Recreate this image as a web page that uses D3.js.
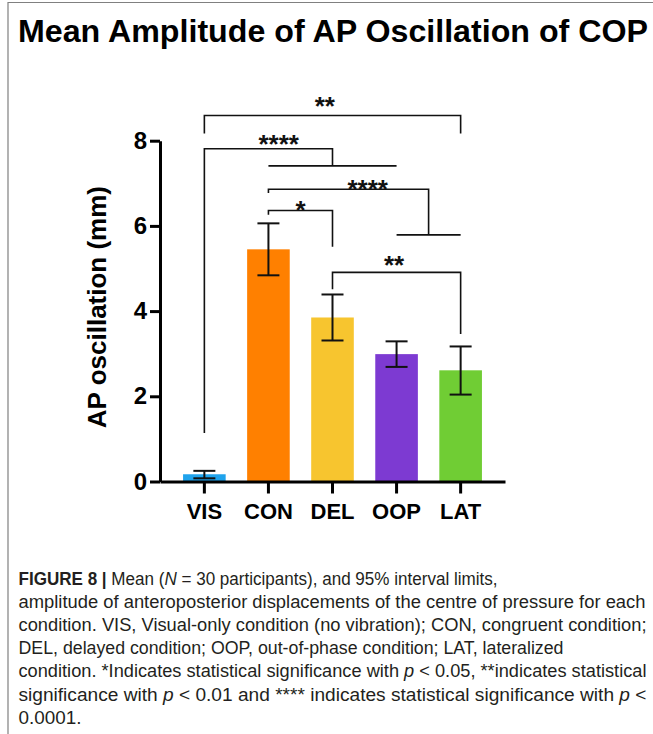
<!DOCTYPE html>
<html>
<head>
<meta charset="utf-8">
<script src="https://cdnjs.cloudflare.com/ajax/libs/d3/7.8.5/d3.min.js"></script>
<style>
  body { margin: 0; background: #fff; }
  svg { display: block; font-family: "Liberation Sans", Arial, Helvetica, sans-serif; }
</style>
</head>
<body>
<svg id="chart" width="653" height="734"></svg>
<script>
// values
const categories = ["VIS", "CON", "DEL", "OOP", "LAT"];
const means   = [0.17, 5.45, 3.85, 2.99, 2.61];
const ciLower = [0.075, 4.84, 3.31, 2.69, 2.04];
const ciUpper = [0.25, 6.06, 4.39, 3.29, 3.17];
const barColors = ["#1fa3ec", "#ff8000", "#f7c52f", "#7d3ad2", "#70cd34"];
const yTicks = [0, 2, 4, 6, 8];

// significance brackets (levels in mm, ends are category names or groups)
const comparisons = [
  { label: "**",   from: "VIS", to: ["LAT"],        level: 8.59, fromEnd: 8.17, toEnd: 8.17, labelLevel: 8.96, labelAt: 0.47 },
  { label: "****", from: "VIS", to: ["CON", "OOP"], level: 7.81, fromEnd: 1.14, toEnd: 7.41, labelLevel: 8.06, labelAt: 0.58 },
  { label: "****", from: "CON", to: ["OOP", "LAT"], level: 6.86, fromEnd: 6.77, toEnd: 5.79, labelLevel: 7.01, labelAt: 0.62 },
  { label: "*",    from: "CON", to: ["DEL"],        level: 6.36, fromEnd: 6.26, toEnd: 5.51, labelLevel: 6.51, labelAt: 0.5 },
  { label: "**",   from: "DEL", to: ["LAT"],        level: 4.91, fromEnd: 4.51, toEnd: 3.46, labelLevel: 5.23, labelAt: 0.48 }
];

const titleText = "Mean Amplitude of AP Oscillation of COP";
const yLabel = "AP oscillation (mm)";

// caption lines: [text, style] pieces
const captionLines = [
  [["FIGURE 8 | ", "b"], ["Mean (", ""], ["N", "i"], [" = 30 participants), and 95% interval limits,", ""]],
  [["amplitude of anteroposterior displacements of the centre of pressure for each", ""]],
  [["condition. VIS, Visual-only condition (no vibration); CON, congruent condition;", ""]],
  [["DEL, delayed condition; OOP, out-of-phase condition; LAT, lateralized", ""]],
  [["condition. *Indicates statistical significance with ", ""], ["p", "i"], [" < 0.05, **indicates statistical", ""]],
  [["significance with ", ""], ["p", "i"], [" < 0.01 and **** indicates statistical significance with ", ""], ["p", "i"], [" <", ""]],
  [["0.0001.", ""]]
];
const captionWidths = [479, 627, 628, 545, 628, 628, 63];

const svg = d3.select("#chart");

// frame
svg.append("path")
  .attr("d", "M8,734V2.5H653")
  .attr("fill", "none")
  .attr("stroke", "#808080")
  .attr("stroke-width", 1.2);

svg.append("text")
  .attr("x", 18)
  .attr("y", 42)
  .attr("font-size", 31)
  .attr("font-weight", "bold")
  .attr("fill", "#000")
  .attr("textLength", 630)
  .attr("lengthAdjust", "spacingAndGlyphs")
  .text(titleText);

let x = d3.scaleBand()
  .domain(categories)
  .range([160, 505])
  .paddingInner(0.335)
  .paddingOuter(0.36);

let y = d3.scaleLinear()
  .domain([0, 8])
  .range([481.5, 140.7]);

function centerOf(name) {
  return x(name) + x.bandwidth() / 2;
}

let plot = svg.append("g");

plot.selectAll(".bar")
  .data(categories)
  .join("rect")
  .attr("class", "bar")
  .attr("x", d => x(d))
  .attr("width", x.bandwidth())
  .attr("y", (d, i) => y(means[i]))
  .attr("height", (d, i) => y(0) - y(means[i]))
  .attr("fill", (d, i) => barColors[i]);

// error bars
let capHalf = 11;
let err = plot.selectAll(".err")
  .data(categories)
  .join("g")
  .attr("class", "err")
  .attr("stroke", "#111")
  .attr("stroke-width", 2);
err.append("line")
  .attr("x1", d => centerOf(d)).attr("x2", d => centerOf(d))
  .attr("y1", (d, i) => y(ciLower[i])).attr("y2", (d, i) => y(ciUpper[i]));
err.append("line")
  .attr("x1", d => centerOf(d) - capHalf).attr("x2", d => centerOf(d) + capHalf)
  .attr("y1", (d, i) => y(ciUpper[i])).attr("y2", (d, i) => y(ciUpper[i]));
err.append("line")
  .attr("x1", d => centerOf(d) - capHalf).attr("x2", d => centerOf(d) + capHalf)
  .attr("y1", (d, i) => y(ciLower[i])).attr("y2", (d, i) => y(ciLower[i]));

// axes
let yAxis = svg.append("g")
  .attr("transform", "translate(160,0)")
  .call(d3.axisLeft(y)
    .tickValues(yTicks)
    .tickFormat(d3.format("d"))
    .tickSize(10)
    .tickPadding(3)
    .tickSizeOuter(0));

let xAxis = svg.append("g")
  .attr("transform", "translate(0," + y(0) + ")")
  .call(d3.axisBottom(x)
    .tickSize(12)
    .tickPadding(10)
    .tickSizeOuter(0));

[yAxis, xAxis].forEach(a => {
  a.selectAll("path, line").attr("stroke", "#000").attr("stroke-width", 3);
  a.selectAll("text")
    .attr("fill", "#000")
    .attr("font-family", "'Liberation Sans', Arial, sans-serif")
    .attr("font-weight", "bold");
});
yAxis.selectAll("text").attr("font-size", 24);
xAxis.selectAll("text").attr("font-size", 22);

svg.append("text")
  .attr("transform", "translate(106," + ((y(0) + y(8)) / 2 - 4) + ") rotate(-90)")
  .attr("text-anchor", "middle")
  .attr("font-size", 26)
  .attr("font-weight", "bold")
  .attr("fill", "#000")
  .text(yLabel);

// significance brackets
let sig = svg.append("g")
  .attr("fill", "none")
  .attr("stroke", "#111")
  .attr("stroke-width", 1.6);

comparisons.forEach(c => {
  let x1 = centerOf(c.from);
  let x2;
  if (c.to.length === 1) {
    x2 = centerOf(c.to[0]);
    sig.append("path")
      .attr("d", `M${x1},${y(c.fromEnd)}V${y(c.level)}H${x2}V${y(c.toEnd)}`);
  } else {
    let g1 = centerOf(c.to[0]), g2 = centerOf(c.to[1]);
    x2 = (g1 + g2) / 2;
    sig.append("path")
      .attr("d", `M${x1},${y(c.fromEnd)}V${y(c.level)}H${x2}V${y(c.toEnd)}M${g1},${y(c.toEnd)}H${g2}`);
  }
  svg.append("text")
    .attr("x", x1 + (x2 - x1) * c.labelAt)
    .attr("y", y(c.labelLevel))
    .attr("dy", "0.58em")
    .attr("text-anchor", "middle")
    .attr("font-size", 26)
    .attr("font-weight", "bold")
    .attr("fill", "#111")
    .text(c.label);
});

// caption
let cap = svg.append("g")
  .attr("font-size", 17.5)
  .attr("fill", "#231f20");

captionLines.forEach((line, i) => {
  let t = cap.append("text")
    .attr("x", 18.5)
    .attr("y", 584.5 + i * 23.2)
    .attr("textLength", captionWidths[i])
    .attr("lengthAdjust", "spacingAndGlyphs");
  line.forEach(p => {
    t.append("tspan")
      .attr("font-weight", p[1] === "b" ? "bold" : null)
      .attr("font-style", p[1] === "i" ? "italic" : null)
      .text(p[0]);
  });
});
</script>
</body>
</html>
